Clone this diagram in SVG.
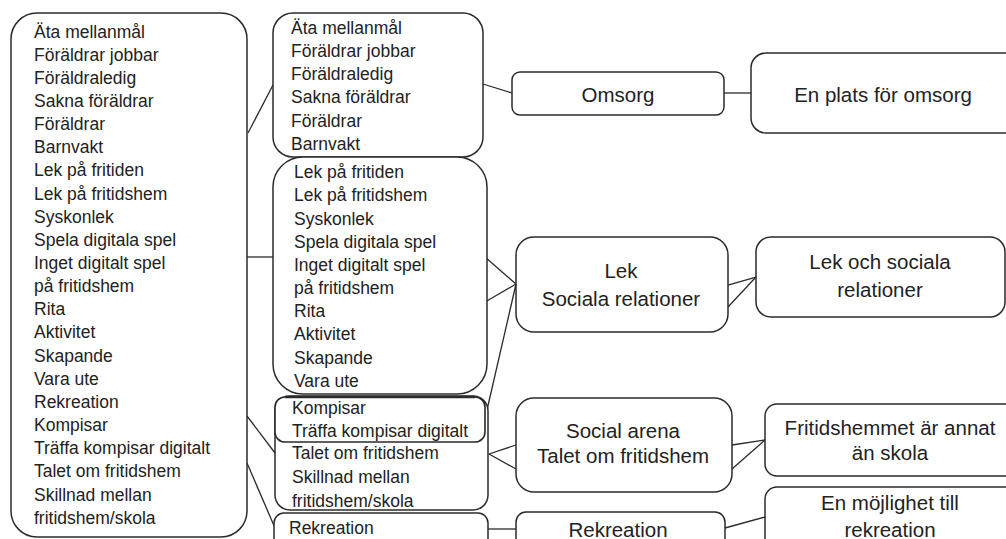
<svg xmlns="http://www.w3.org/2000/svg" width="1006" height="539" viewBox="0 0 1006 539">
<style>
.box{fill:#fff;stroke:#2b2b2b;stroke-width:1.5}
.ln{stroke:#2b2b2b;stroke-width:1.3;fill:none}
.t{font-family:"Liberation Sans",Arial,sans-serif;font-size:17.5px;fill:#222}
.c{font-family:"Liberation Sans",Arial,sans-serif;font-size:20.5px;fill:#222;text-anchor:middle}
</style>
<rect width="1006" height="539" fill="#fff"/>
<g id="connectors">
<line class="ln" x1="248" y1="133" x2="273" y2="85"/>
<line class="ln" x1="247" y1="257" x2="273" y2="257"/>
<line class="ln" x1="247" y1="416" x2="275" y2="453"/>
<line class="ln" x1="247" y1="463" x2="275" y2="528"/>
<line class="ln" x1="483" y1="84" x2="512" y2="93"/>
<line class="ln" x1="485" y1="257" x2="516" y2="284"/>
<line class="ln" x1="485" y1="302" x2="516" y2="284"/>
<line class="ln" x1="487" y1="410" x2="516" y2="284"/>
<line class="ln" x1="489" y1="454" x2="516" y2="445"/>
<line class="ln" x1="489" y1="454" x2="516" y2="469"/>
<line class="ln" x1="488" y1="529" x2="516" y2="529"/>
<line class="ln" x1="724" y1="93" x2="751" y2="93"/>
<line class="ln" x1="728" y1="285" x2="756" y2="277"/>
<line class="ln" x1="728" y1="307" x2="756" y2="277"/>
<line class="ln" x1="732" y1="445" x2="765" y2="440"/>
<line class="ln" x1="732" y1="469" x2="765" y2="440"/>
<line class="ln" x1="725" y1="528" x2="765" y2="517"/>
</g>
<g id="codes-all">
<rect class="box" x="11" y="13" width="236" height="524" rx="26"/>
<text class="t" x="34" y="37.5">Äta mellanmål</text>
<text class="t" x="34" y="60.65">Föräldrar jobbar</text>
<text class="t" x="34" y="83.8">Föräldraledig</text>
<text class="t" x="34" y="106.95">Sakna föräldrar</text>
<text class="t" x="34" y="130.1">Föräldrar</text>
<text class="t" x="34" y="153.25">Barnvakt</text>
<text class="t" x="34" y="176.4">Lek på fritiden</text>
<text class="t" x="34" y="199.55">Lek på fritidshem</text>
<text class="t" x="34" y="222.7">Syskonlek</text>
<text class="t" x="34" y="245.85">Spela digitala spel</text>
<text class="t" x="34" y="269">Inget digitalt spel</text>
<text class="t" x="34" y="292.15">på fritidshem</text>
<text class="t" x="34" y="315.3">Rita</text>
<text class="t" x="34" y="338.45">Aktivitet</text>
<text class="t" x="34" y="361.6">Skapande</text>
<text class="t" x="34" y="384.75">Vara ute</text>
<text class="t" x="34" y="407.9">Rekreation</text>
<text class="t" x="34" y="431.05">Kompisar</text>
<text class="t" x="34" y="454.2">Träffa kompisar digitalt</text>
<text class="t" x="34" y="477.35">Talet om fritidshem</text>
<text class="t" x="34" y="500.5">Skillnad mellan</text>
<text class="t" x="34" y="523.65">fritidshem/skola</text>
</g>
<g id="group-omsorg">
<rect class="box" x="273" y="13" width="210" height="144" rx="20"/>
<text class="t" x="291" y="33.5">Äta mellanmål</text>
<text class="t" x="291" y="56.8">Föräldrar jobbar</text>
<text class="t" x="291" y="80.1">Föräldraledig</text>
<text class="t" x="291" y="103.4">Sakna föräldrar</text>
<text class="t" x="291" y="126.7">Föräldrar</text>
<text class="t" x="291" y="150">Barnvakt</text>
</g>
<g id="group-lek">
<rect class="box" x="273" y="157" width="214" height="237" rx="30"/>
<text class="t" x="294" y="178.3">Lek på fritiden</text>
<text class="t" x="294" y="201.45">Lek på fritidshem</text>
<text class="t" x="294" y="224.6">Syskonlek</text>
<text class="t" x="294" y="247.75">Spela digitala spel</text>
<text class="t" x="294" y="270.9">Inget digitalt spel</text>
<text class="t" x="294" y="294.05">på fritidshem</text>
<text class="t" x="294" y="317.2">Rita</text>
<text class="t" x="294" y="340.35">Aktivitet</text>
<text class="t" x="294" y="363.5">Skapande</text>
<text class="t" x="294" y="386.65">Vara ute</text>
</g>
<g id="group-social">
<rect class="box" x="275" y="396" width="213" height="114" rx="15"/>
<rect class="box" x="275" y="397" width="210" height="45" rx="10" style="stroke-width:1.6"/>
<line class="ln" x1="285" y1="397" x2="475" y2="397" style="stroke-width:2.4"/>
<text class="t" x="292" y="414.3">Kompisar</text>
<text class="t" x="292" y="436.7">Träffa kompisar digitalt</text>
<text class="t" x="292" y="459.3">Talet om fritidshem</text>
<text class="t" x="292" y="483.3">Skillnad mellan</text>
<text class="t" x="292" y="506.7">fritidshem/skola</text>
</g>
<g id="group-rekreation">
<rect class="box" x="274" y="513" width="214" height="50" rx="10"/>
<text class="t" x="289" y="534">Rekreation</text>
</g>
<g id="cat-omsorg">
<rect class="box" x="512" y="72" width="212" height="43" rx="8"/>
<text class="c" x="618" y="101.7">Omsorg</text>
</g>
<g id="cat-lek">
<rect class="box" x="516" y="237" width="212" height="95" rx="18"/>
<text class="c" x="621" y="278.3">Lek</text>
<text class="c" x="621" y="306">Sociala relationer</text>
</g>
<g id="cat-social">
<rect class="box" x="516" y="398" width="216" height="94" rx="18"/>
<text class="c" x="623" y="438.3">Social arena</text>
<text class="c" x="623" y="463.3">Talet om fritidshem</text>
</g>
<g id="cat-rekreation">
<rect class="box" x="516" y="512" width="209" height="50" rx="10"/>
<text class="c" x="618" y="536.7">Rekreation</text>
</g>
<g id="theme-omsorg">
<rect class="box" x="751" y="53" width="270" height="80" rx="15"/>
<text class="c" x="883" y="101.7">En plats för omsorg</text>
</g>
<g id="theme-lek">
<rect class="box" x="756" y="237" width="249" height="80" rx="15"/>
<text class="c" x="880" y="269.3">Lek och sociala</text>
<text class="c" x="880" y="297.3">relationer</text>
</g>
<g id="theme-social">
<rect class="box" x="765" y="404" width="260" height="72" rx="12"/>
<text class="c" x="890" y="435">Fritidshemmet är annat</text>
<text class="c" x="890" y="460">än skola</text>
</g>
<g id="theme-rekreation">
<rect class="box" x="765" y="487" width="260" height="80" rx="12"/>
<text class="c" x="890" y="510">En möjlighet till</text>
<text class="c" x="890" y="536.7">rekreation</text>
</g>
</svg>
